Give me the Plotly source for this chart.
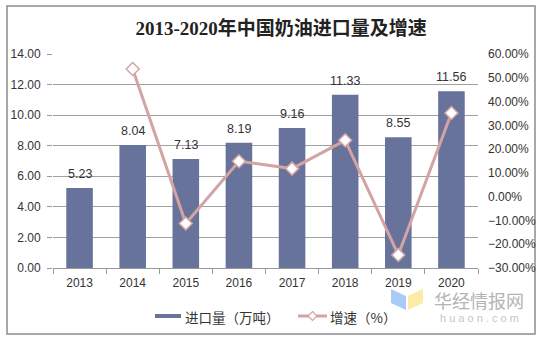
import plotly.graph_objects as go

years = ["2013", "2014", "2015", "2016", "2017", "2018", "2019", "2020"]
imports = [5.23, 8.04, 7.13, 8.19, 9.16, 11.33, 8.55, 11.56]
growth_years = ["2014", "2015", "2016", "2017", "2018", "2019", "2020"]
growth = [53.7, -11.3, 14.9, 11.8, 23.7, -24.5, 35.2]

L, R, T, B = 53, 478, 54, 268
W, H = 548, 345
def px(x):
    return (x - L) / (R - L)
def py(y):
    return (B - y) / (B - T)

BAR_C = "#67739B"
LINE_C = "#D4A3A3"
num_font = "Arial, Liberation Sans"

fig = go.Figure()
fig.add_trace(go.Bar(
    x=years, y=imports, name="进口量（万吨）",
    marker=dict(color=BAR_C, line=dict(width=0)),
    width=0.5, cliponaxis=False, showlegend=False,
))
fig.add_trace(go.Scatter(
    x=growth_years, y=growth, name="增速（%）", yaxis="y2",
    mode="lines+markers",
    line=dict(color=LINE_C, width=3),
    marker=dict(symbol="diamond", size=10, color="white",
                line=dict(color=LINE_C, width=1.5)),
    cliponaxis=False, showlegend=False,
))

# bar value labels (x = category index on the category axis)
for i, v in enumerate(imports):
    fig.add_annotation(x=i, y=v, xref="x", yref="y", text=f"{v:.2f}",
                       showarrow=False, yanchor="bottom", yshift=5,
                       font=dict(size=12.5, color="#333333", family=num_font))

fig.update_layout(
    width=W, height=H,
    margin=dict(l=L, r=W - R, t=T, b=H - B),
    paper_bgcolor="white", plot_bgcolor="white",
    title=dict(text="<b>2013-2020年中国奶油进口量及增速</b>",
               x=px(271), xanchor="center", y=1 - 28 / H, yanchor="middle",
               yref="container",
               font=dict(size=19, color="#222222",
                         family="Liberation Serif, Noto Sans CJK SC")),
    font=dict(family=num_font, size=12, color="#333333"),
    showlegend=False,
    xaxis=dict(type="category", categoryarray=years, categoryorder="array",
               range=[-0.5, len(years) - 0.5],
               showgrid=False, showline=True,
               linecolor="#999999", linewidth=1,
               ticks="outside", tickson="boundaries", ticklen=5,
               tickcolor="#999999", ticklabelstandoff=4,
               tickfont=dict(size=12, color="#333333", family=num_font)),
    yaxis=dict(range=[0, 14], dtick=2, tickformat=".2f",
               showgrid=True, gridcolor="#A0A0A0", gridwidth=1,
               zeroline=False, showline=False,
               ticks="outside", ticklen=5, tickcolor="#999999",
               ticklabelstandoff=4,
               tickfont=dict(size=12, color="#333333", family=num_font)),
    yaxis2=dict(range=[-30, 60], dtick=10, tickformat=".2f", ticksuffix="%",
                overlaying="y", side="right", showgrid=False,
                zeroline=False, showline=False, ticklabelstandoff=9,
                tickfont=dict(size=12, color="#333333", family=num_font)),
)

# outer frame
fig.add_shape(type="rect", xref="paper", yref="paper",
              x0=px(7), x1=px(535), y0=py(334), y1=py(6),
              line=dict(color="#8C8C8C", width=1.5), fillcolor="rgba(0,0,0,0)",
              layer="below")

# custom legend
fig.add_shape(type="rect", xref="paper", yref="paper",
              x0=px(155), x1=px(181), y0=py(318), y1=py(314),
              fillcolor=BAR_C, line=dict(width=0))
fig.add_annotation(xref="paper", yref="paper", x=px(183), y=py(317),
                   xanchor="left", yanchor="middle", showarrow=False,
                   text="进口量（万吨）",
                   font=dict(size=13.5, color="#333333", family="Noto Sans CJK SC"))
fig.add_shape(type="line", xref="paper", yref="paper",
              x0=px(298), x1=px(327), y0=py(316), y1=py(316),
              line=dict(color=LINE_C, width=3))
fig.add_shape(type="path", xref="paper", yref="paper",
              path=f"M {px(312.5)} {py(311.5)} L {px(317)} {py(316)} L {px(312.5)} {py(320.5)} L {px(308)} {py(316)} Z",
              fillcolor="white", line=dict(color=LINE_C, width=1.2))
fig.add_annotation(xref="paper", yref="paper", x=px(328), y=py(317),
                   xanchor="left", yanchor="middle", showarrow=False,
                   text="增速（%）",
                   font=dict(size=13.5, color="#333333", family="Noto Sans CJK SC"))

# watermark
fig.add_shape(type="path", xref="paper", yref="paper",
              path=f"M {px(391)} {py(289)} L {px(406)} {py(296)} L {px(406)} {py(310)} L {px(391)} {py(303)} Z",
              fillcolor="#A9CBF7", line=dict(width=0))
fig.add_shape(type="path", xref="paper", yref="paper",
              path=f"M {px(408)} {py(296)} L {px(423)} {py(289)} L {px(423)} {py(303)} L {px(408)} {py(310)} Z",
              fillcolor="#FCEBA6", line=dict(width=0))
fig.add_annotation(xref="paper", yref="paper", x=px(478.5), y=py(300),
                   xanchor="center", yanchor="middle",
                   text="华经情报网", showarrow=False,
                   font=dict(size=18, color="#B4B4B4", family="Noto Sans CJK SC"))
fig.add_annotation(xref="paper", yref="paper", x=px(479.5), y=py(318),
                   xanchor="center", yanchor="middle",
                   text="h u a o n . c o m", showarrow=False,
                   font=dict(size=11, color="#C6C6C6", family=num_font))

fig.write_html("out.html")
